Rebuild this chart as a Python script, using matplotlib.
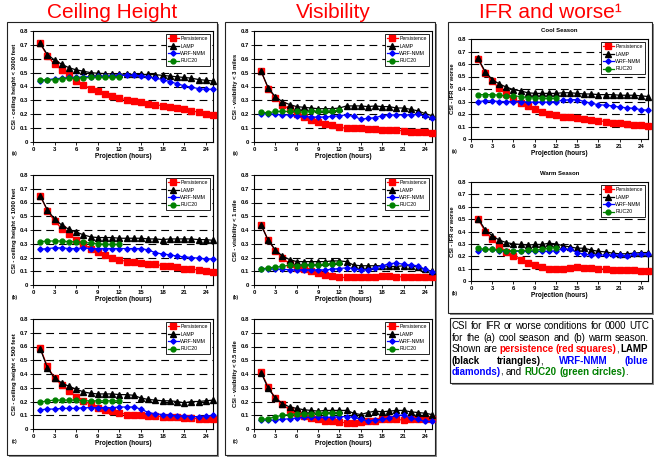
import numpy as np
import matplotlib
matplotlib.use("Agg")
import matplotlib.pyplot as plt
from matplotlib.patches import Rectangle

plt.rcParams["font.family"] = ["Liberation Sans", "DejaVu Sans"]

W, H = 655, 457
hours = list(range(1, 26))
ruc_hours = list(range(1, 13))
series_names = ["Persistence", "LAMP", "WRF-NMM", "RUC20"]

# ceiling height < 3000 ft
cig3000_pers = [0.71, 0.62, 0.56, 0.52, 0.48, 0.44, 0.41, 0.385, 0.365, 0.345, 0.33, 0.315, 0.305,
                0.295, 0.285, 0.275, 0.27, 0.26, 0.255, 0.245, 0.235, 0.225, 0.215, 0.205, 0.198]
cig3000_lamp = [0.71, 0.63, 0.59, 0.56, 0.535, 0.52, 0.51, 0.50, 0.495, 0.493, 0.49, 0.49, 0.488,
                0.487, 0.487, 0.487, 0.485, 0.48, 0.475, 0.47, 0.465, 0.46, 0.45, 0.445, 0.44]
cig3000_wrf = [0.44, 0.45, 0.455, 0.46, 0.465, 0.465, 0.47, 0.47, 0.475, 0.475, 0.478, 0.48, 0.48,
               0.48, 0.478, 0.47, 0.46, 0.45, 0.435, 0.42, 0.405, 0.395, 0.385, 0.38, 0.38]
cig3000_ruc = [0.45, 0.445, 0.45, 0.455, 0.46, 0.46, 0.462, 0.465, 0.465, 0.465, 0.465, 0.468]

# ceiling height < 1000 ft
cig1000_pers = [0.65, 0.54, 0.465, 0.41, 0.37, 0.33, 0.295, 0.265, 0.24, 0.215, 0.20, 0.185, 0.17,
                0.165, 0.16, 0.155, 0.15, 0.14, 0.135, 0.13, 0.12, 0.115, 0.11, 0.10, 0.095]
cig1000_lamp = [0.65, 0.545, 0.48, 0.435, 0.405, 0.385, 0.365, 0.35, 0.345, 0.345, 0.345, 0.34, 0.34,
                0.34, 0.34, 0.335, 0.335, 0.33, 0.335, 0.335, 0.335, 0.335, 0.33, 0.33, 0.325]
cig1000_wrf = [0.26, 0.265, 0.27, 0.27, 0.265, 0.265, 0.27, 0.265, 0.265, 0.265, 0.265, 0.265, 0.265,
               0.265, 0.265, 0.255, 0.235, 0.225, 0.22, 0.21, 0.205, 0.20, 0.195, 0.19, 0.19]
cig1000_ruc = [0.315, 0.32, 0.32, 0.32, 0.315, 0.315, 0.31, 0.305, 0.30, 0.295, 0.295, 0.295]

# ceiling height < 500 ft
cig500_pers = [0.59, 0.455, 0.37, 0.32, 0.28, 0.235, 0.205, 0.18, 0.155, 0.14, 0.13, 0.12, 0.105,
               0.10, 0.10, 0.095, 0.095, 0.09, 0.09, 0.085, 0.08, 0.08, 0.075, 0.07, 0.07]
cig500_lamp = [0.585, 0.445, 0.37, 0.335, 0.31, 0.29, 0.27, 0.26, 0.255, 0.255, 0.255, 0.25, 0.25,
               0.245, 0.225, 0.215, 0.21, 0.205, 0.205, 0.20, 0.19, 0.20, 0.20, 0.205, 0.21]
cig500_wrf = [0.14, 0.145, 0.145, 0.15, 0.15, 0.15, 0.155, 0.155, 0.155, 0.155, 0.155, 0.16, 0.16,
              0.16, 0.145, 0.12, 0.11, 0.105, 0.10, 0.095, 0.095, 0.09, 0.09, 0.095, 0.10]
cig500_ruc = [0.195, 0.205, 0.21, 0.21, 0.21, 0.21, 0.205, 0.205, 0.205, 0.205, 0.205, 0.205]

# visibility < 3 miles
vis3_pers = [0.51, 0.385, 0.32, 0.27, 0.235, 0.20, 0.18, 0.16, 0.145, 0.13, 0.12, 0.105, 0.10,
             0.10, 0.10, 0.095, 0.095, 0.09, 0.085, 0.085, 0.08, 0.075, 0.075, 0.07, 0.065]
vis3_lamp = [0.51, 0.39, 0.325, 0.29, 0.27, 0.255, 0.25, 0.245, 0.24, 0.24, 0.24, 0.245, 0.26,
             0.26, 0.26, 0.255, 0.26, 0.255, 0.255, 0.245, 0.245, 0.235, 0.225, 0.205, 0.19]
vis3_wrf = [0.205, 0.205, 0.20, 0.195, 0.195, 0.185, 0.185, 0.18, 0.18, 0.18, 0.185, 0.19, 0.195,
            0.185, 0.165, 0.17, 0.175, 0.19, 0.195, 0.195, 0.195, 0.195, 0.20, 0.185, 0.175]
vis3_ruc = [0.215, 0.21, 0.22, 0.22, 0.22, 0.22, 0.215, 0.22, 0.22, 0.22, 0.225, 0.23]

# visibility < 1 mile
vis1_pers = [0.44, 0.325, 0.25, 0.195, 0.155, 0.125, 0.115, 0.10, 0.085, 0.075, 0.065, 0.055, 0.055,
             0.055, 0.055, 0.06, 0.06, 0.065, 0.065, 0.06, 0.06, 0.055, 0.055, 0.055, 0.055]
vis1_lamp = [0.435, 0.325, 0.255, 0.21, 0.185, 0.17, 0.17, 0.17, 0.17, 0.17, 0.175, 0.175, 0.17,
             0.145, 0.14, 0.14, 0.14, 0.14, 0.135, 0.135, 0.14, 0.14, 0.13, 0.115, 0.10]
vis1_wrf = [0.12, 0.12, 0.115, 0.115, 0.11, 0.11, 0.11, 0.11, 0.11, 0.11, 0.115, 0.12, 0.125,
            0.12, 0.11, 0.11, 0.125, 0.14, 0.155, 0.16, 0.15, 0.145, 0.14, 0.115, 0.095]
vis1_ruc = [0.115, 0.125, 0.13, 0.135, 0.145, 0.14, 0.145, 0.145, 0.145, 0.15, 0.155, 0.16]

# visibility < 0.5 mile
vis05_pers = [0.415, 0.305, 0.225, 0.18, 0.14, 0.12, 0.095, 0.08, 0.07, 0.06, 0.055, 0.05, 0.045,
              0.045, 0.05, 0.055, 0.06, 0.07, 0.075, 0.07, 0.065, 0.07, 0.07, 0.07, 0.07]
vis05_lamp = [0.41, 0.295, 0.225, 0.185, 0.16, 0.15, 0.14, 0.135, 0.13, 0.135, 0.135, 0.135, 0.135,
              0.115, 0.105, 0.12, 0.13, 0.125, 0.13, 0.135, 0.135, 0.125, 0.12, 0.115, 0.105]
vis05_wrf = [0.065, 0.065, 0.065, 0.07, 0.075, 0.08, 0.085, 0.085, 0.085, 0.085, 0.085, 0.09, 0.09,
             0.085, 0.07, 0.06, 0.065, 0.07, 0.08, 0.10, 0.10, 0.08, 0.07, 0.055, 0.055]
vis05_ruc = [0.07, 0.075, 0.09, 0.10, 0.105, 0.11, 0.11, 0.11, 0.115, 0.115, 0.12, 0.12]

# IFR or worse, cool season
cool_pers = [0.64, 0.53, 0.465, 0.405, 0.36, 0.32, 0.29, 0.265, 0.24, 0.22, 0.20, 0.19, 0.18,
             0.175, 0.17, 0.16, 0.155, 0.145, 0.14, 0.13, 0.125, 0.12, 0.115, 0.11, 0.105]
cool_lamp = [0.645, 0.54, 0.475, 0.44, 0.415, 0.395, 0.385, 0.37, 0.365, 0.365, 0.365, 0.365, 0.37,
             0.37, 0.365, 0.36, 0.36, 0.355, 0.355, 0.355, 0.35, 0.35, 0.35, 0.345, 0.34]
cool_wrf = [0.30, 0.305, 0.305, 0.30, 0.30, 0.30, 0.30, 0.295, 0.295, 0.295, 0.295, 0.30, 0.31,
            0.315, 0.315, 0.30, 0.285, 0.275, 0.27, 0.265, 0.255, 0.25, 0.245, 0.235, 0.23]
cool_ruc = [0.355, 0.355, 0.355, 0.35, 0.345, 0.345, 0.34, 0.33, 0.33, 0.325, 0.325, 0.325]

# IFR or worse, warm season
warm_pers = [0.50, 0.40, 0.34, 0.28, 0.235, 0.205, 0.17, 0.145, 0.13, 0.115, 0.10, 0.10, 0.10,
             0.105, 0.11, 0.105, 0.105, 0.10, 0.095, 0.09, 0.09, 0.085, 0.085, 0.08, 0.08]
warm_lamp = [0.505, 0.415, 0.365, 0.33, 0.31, 0.30, 0.295, 0.29, 0.295, 0.295, 0.305, 0.30, 0.285,
             0.275, 0.265, 0.265, 0.25, 0.24, 0.235, 0.225, 0.22, 0.22, 0.225, 0.23, 0.23]
warm_wrf = [0.245, 0.255, 0.255, 0.245, 0.24, 0.24, 0.24, 0.24, 0.24, 0.24, 0.24, 0.245, 0.26,
            0.255, 0.23, 0.215, 0.21, 0.21, 0.21, 0.21, 0.21, 0.205, 0.215, 0.22, 0.22]
warm_ruc = [0.265, 0.255, 0.255, 0.25, 0.245, 0.245, 0.245, 0.25, 0.25, 0.255, 0.265, 0.27]

RED, BLUE, GREEN = "#ff0000", "#0000ff", "#008000"

fig = plt.figure(figsize=(W / 100, H / 100), dpi=100)


def px(x, y):
    return x / W, 1 - y / H


def frame(x0, y0, x1, y1):
    # grey drop shadow, then white panel with dark border (behind the axes)
    fig.patches.append(Rectangle(px(x0 + 2, y1 + 2), (x1 - x0) / W, (y1 - y0) / H,
                                 transform=fig.transFigure, fc="#8a8a8a", ec="none", zorder=-3))
    fig.patches.append(Rectangle(px(x0, y1), (x1 - x0) / W, (y1 - y0) / H,
                                 transform=fig.transFigure, fc="white", ec="#222222", lw=0.8, zorder=-2))


def add_ax(x0, y0, x1, y1):
    l, b = px(x0, y1)
    return fig.add_axes([l, b, (x1 - x0) / W, (y1 - y0) / H])


def panel(ax, pers, lamp, wrf, ruc, ylabel, tag, tag_x, title=None):
    for g in np.arange(0.1, 0.75, 0.1):
        ax.axhline(g, color="black", lw=0.8, ls=(0, (7, 4.5)), zorder=1)
    ax.plot(hours, pers, color=RED, marker="s", ms=3.7, lw=0.9, clip_on=False, zorder=3, label=series_names[0])
    ax.plot(hours, lamp, color="black", marker="^", ms=3.9, lw=0.9, clip_on=False, zorder=4, label=series_names[1])
    ax.plot(hours, wrf, color=BLUE, marker="D", ms=2.7, lw=0.9, clip_on=False, zorder=5, label=series_names[2])
    ax.plot(ruc_hours, ruc, color=GREEN, marker="o", ms=3.5, lw=0.9, clip_on=False, zorder=6, label=series_names[3])
    ax.set_xlim(0, 25)
    ax.set_ylim(0, 0.8)
    xt = list(range(0, 25, 3))
    yt = np.arange(0, 0.81, 0.1)
    ax.set_xticks(xt)
    ax.set_xticklabels([str(v) for v in xt], fontsize=4.3, fontweight="bold")
    ax.set_yticks(yt)
    ax.set_yticklabels(["0"] + ["%.1f" % v for v in yt[1:]], fontsize=4.3, fontweight="bold")
    ax.tick_params(length=2, width=0.6, pad=1.5)
    for s in ax.spines.values():
        s.set_linewidth(0.8)
    ax.set_xlabel("Projection (hours)", fontsize=4.7, fontweight="bold", labelpad=1)
    ax.set_ylabel(ylabel, fontsize=4.2, fontweight="bold", labelpad=2)
    leg = ax.legend(loc="upper right", fontsize=3.8, frameon=True, fancybox=False, edgecolor="black",
                    borderpad=0.4, handlelength=2.0, labelspacing=0.45, handletextpad=0.3,
                    borderaxespad=0.6, framealpha=1)
    leg.get_frame().set_linewidth(0.6)
    if title:
        ax.set_title(title, fontsize=4.3, fontweight="bold", pad=5)
    bb = ax.get_position()
    fig.text(tag_x / W, bb.y0 - 12 / H, tag, fontsize=3.3, fontweight="bold", va="center")


# outer frames
frame(7, 22, 217, 455)
frame(225, 22, 435, 455)
frame(448, 22, 652, 313)
frame(450, 318, 652, 383)

# column headings
fig.text(*px(112, 12), "Ceiling Height", color=RED, fontsize=15, ha="center", va="center")
fig.text(*px(333, 12), "Visibility", color=RED, fontsize=15, ha="center", va="center")
fig.text(*px(550, 12), "IFR and worse\u00b9", color=RED, fontsize=15, ha="center", va="center")

rows = [(31, 142), (175, 285), (319, 429)]
cig = [(cig3000_pers, cig3000_lamp, cig3000_wrf, cig3000_ruc, "CSI - ceiling height < 3000 feet", "(a)"),
       (cig1000_pers, cig1000_lamp, cig1000_wrf, cig1000_ruc, "CSI - ceiling height < 1000 feet", "(b)"),
       (cig500_pers, cig500_lamp, cig500_wrf, cig500_ruc, "CSI - ceiling height < 500 feet", "(c)")]
vis = [(vis3_pers, vis3_lamp, vis3_wrf, vis3_ruc, "CSI - visibility < 3 miles", "(a)"),
       (vis1_pers, vis1_lamp, vis1_wrf, vis1_ruc, "CSI - visibility < 1 mile", "(b)"),
       (vis05_pers, vis05_lamp, vis05_wrf, vis05_ruc, "CSI - visibility < 0.5 mile", "(c)")]

for (y0, y1), c, v in zip(rows, cig, vis):
    panel(add_ax(33, y0, 213, y1), *c[:4], c[4], c[5], 12)
    panel(add_ax(254, y0, 432, y1), *v[:4], v[4], v[5], 233)

panel(add_ax(471, 39, 648, 139), cool_pers, cool_lamp, cool_wrf, cool_ruc,
      "CSI - IFR or worse", "(a)", 452, title="Cool Season")
panel(add_ax(471, 182, 648, 281), warm_pers, warm_lamp, warm_wrf, warm_ruc,
      "CSI - IFR or worse", "(b)", 452, title="Warm Season")

# caption text box, justified by hand
N, B = "normal", "bold"
caption = [
    [[(w, "black", N)] for w in "CSI for IFR or worse conditions for 0000 UTC".split()],
    [[(w, "black", N)] for w in "for the (a) cool season and (b) warm season.".split()],
    [[("Shown", "black", N)], [("are", "black", N)], [("persistence", RED, B)], [("(red", RED, B)],
     [("squares)", RED, B), (",", "black", N)], [("LAMP", "black", B)]],
    [[("(black", "black", B)], [("triangles)", "black", B), (",", "black", N)],
     [("WRF-NMM", BLUE, B)], [("(blue", BLUE, B)]],
    [[("diamonds)", BLUE, B), (",", "black", N)], [("and", "black", N)], [("RUC20", GREEN, B)],
     [("(green", GREEN, B)], [("circles)", GREEN, B), (".", "black", N)]],
]
line_y = [326, 338, 349, 361, 372]
cap_fs = 7.0
x_left, x_right = 452, 649

renderer = fig.canvas.get_renderer()
for li, (tokens, ly) in enumerate(zip(caption, line_y)):
    objs = []
    for tok in tokens:
        parts = []
        for s, col, wt in tok:
            t = fig.text(0, 1 - ly / H, s, color=col, fontweight=wt, fontsize=cap_fs, va="center", ha="left")
            parts.append((t, t.get_window_extent(renderer).width))
        objs.append(parts)
    total = sum(w for parts in objs for _, w in parts)
    if li < len(caption) - 1:
        gap = max((x_right - x_left - total) / (len(objs) - 1), 1.5)
    else:
        gap = 0.278 * cap_fs * 100 / 72
    x = x_left
    for parts in objs:
        for i, (t, w) in enumerate(parts):
            if i > 0:
                x -= 0.8
            t.set_x(x / W)
            x += w
        x += gap

fig.savefig("out.png", dpi=100)
